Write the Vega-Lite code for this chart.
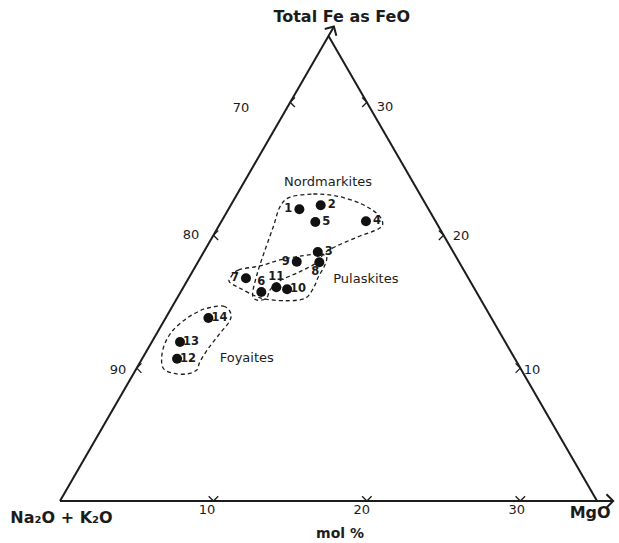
{
  "$schema": "https://vega.github.io/schema/vega-lite/v6.json",
  "width": 619,
  "height": 543,
  "padding": 0,
  "autosize": {"type": "none"},
  "background": "white",
  "config": {"view": {"stroke": null}, "font": "DejaVu Sans"},
  "datasets": {
    "edges": [
      {"edge": "base", "x": 0, "y": 0, "x2": 36, "y2": 0},
      {"edge": "left", "x": 0, "y": 0, "x2": 17.8, "y2": 35.6},
      {"edge": "right", "x": 35, "y": 0, "x2": 17.5, "y2": 35}
    ],
    "ticks": [
      {"side": "bottom", "x": 10, "y": 0},
      {"side": "bottom", "x": 20, "y": 0},
      {"side": "bottom", "x": 30, "y": 0},
      {"side": "left", "x": 5, "y": 10},
      {"side": "left", "x": 10, "y": 20},
      {"side": "left", "x": 15, "y": 30},
      {"side": "right", "x": 30, "y": 10},
      {"side": "right", "x": 25, "y": 20},
      {"side": "right", "x": 20, "y": 30}
    ],
    "ticklabels": [
      {"t": "10", "x": 9.58, "y": -0.68},
      {"t": "20", "x": 19.66, "y": -0.68},
      {"t": "30", "x": 29.77, "y": -0.68},
      {"t": "90", "x": 3.78, "y": 9.86},
      {"t": "80", "x": 8.54, "y": 20.02},
      {"t": "70", "x": 11.8, "y": 29.6},
      {"t": "10", "x": 30.76, "y": 9.86},
      {"t": "20", "x": 26.14, "y": 19.94},
      {"t": "30", "x": 21.18, "y": 29.65}
    ],
    "points": [
      {"id": "1", "x": 15.60, "y": 21.95, "pos": "left"},
      {"id": "2", "x": 16.99, "y": 22.25, "pos": "right"},
      {"id": "3", "x": 16.80, "y": 18.74, "pos": "right"},
      {"id": "4", "x": 19.94, "y": 21.05, "pos": "right"},
      {"id": "5", "x": 16.64, "y": 21.00, "pos": "right"},
      {"id": "6", "x": 13.12, "y": 15.73, "pos": "above"},
      {"id": "7", "x": 12.12, "y": 16.76, "pos": "left"},
      {"id": "8", "x": 16.90, "y": 17.96, "pos": "below"},
      {"id": "9", "x": 15.43, "y": 18.01, "pos": "left"},
      {"id": "10", "x": 14.80, "y": 15.93, "pos": "right"},
      {"id": "11", "x": 14.10, "y": 16.08, "pos": "above"},
      {"id": "12", "x": 7.63, "y": 10.71, "pos": "right"},
      {"id": "13", "x": 7.82, "y": 11.97, "pos": "right"},
      {"id": "14", "x": 9.67, "y": 13.77, "pos": "right"}
    ],
    "outlines": [
      {"group": "Nordmarkites", "o": 1, "x": 14.99, "y": 22.86},
      {"group": "Nordmarkites", "o": 2, "x": 16.51, "y": 23.10},
      {"group": "Nordmarkites", "o": 3, "x": 18.03, "y": 22.95},
      {"group": "Nordmarkites", "o": 4, "x": 19.55, "y": 22.40},
      {"group": "Nordmarkites", "o": 5, "x": 20.64, "y": 21.65},
      {"group": "Nordmarkites", "o": 6, "x": 21.03, "y": 20.94},
      {"group": "Nordmarkites", "o": 7, "x": 20.75, "y": 20.47},
      {"group": "Nordmarkites", "o": 8, "x": 19.55, "y": 19.94},
      {"group": "Nordmarkites", "o": 9, "x": 18.03, "y": 19.19},
      {"group": "Nordmarkites", "o": 10, "x": 17.16, "y": 18.59},
      {"group": "Nordmarkites", "o": 11, "x": 16.84, "y": 18.01},
      {"group": "Nordmarkites", "o": 12, "x": 15.64, "y": 17.26},
      {"group": "Nordmarkites", "o": 13, "x": 14.34, "y": 16.58},
      {"group": "Nordmarkites", "o": 14, "x": 13.70, "y": 15.90},
      {"group": "Nordmarkites", "o": 15, "x": 13.45, "y": 15.25},
      {"group": "Nordmarkites", "o": 16, "x": 12.85, "y": 15.12},
      {"group": "Nordmarkites", "o": 17, "x": 12.55, "y": 15.55},
      {"group": "Nordmarkites", "o": 18, "x": 12.86, "y": 17.14},
      {"group": "Nordmarkites", "o": 19, "x": 13.36, "y": 18.89},
      {"group": "Nordmarkites", "o": 20, "x": 13.90, "y": 20.64},
      {"group": "Nordmarkites", "o": 21, "x": 14.34, "y": 22.15},
      {"group": "Pulaskites", "o": 1, "x": 11.08, "y": 16.76},
      {"group": "Pulaskites", "o": 2, "x": 11.62, "y": 17.38},
      {"group": "Pulaskites", "o": 3, "x": 13.04, "y": 17.69},
      {"group": "Pulaskites", "o": 4, "x": 14.34, "y": 18.14},
      {"group": "Pulaskites", "o": 5, "x": 15.86, "y": 18.46},
      {"group": "Pulaskites", "o": 6, "x": 16.95, "y": 18.57},
      {"group": "Pulaskites", "o": 7, "x": 17.38, "y": 18.34},
      {"group": "Pulaskites", "o": 8, "x": 17.21, "y": 17.63},
      {"group": "Pulaskites", "o": 9, "x": 16.84, "y": 16.88},
      {"group": "Pulaskites", "o": 10, "x": 16.51, "y": 16.01},
      {"group": "Pulaskites", "o": 11, "x": 15.97, "y": 15.25},
      {"group": "Pulaskites", "o": 12, "x": 14.78, "y": 15.07},
      {"group": "Pulaskites", "o": 13, "x": 13.47, "y": 15.18},
      {"group": "Pulaskites", "o": 14, "x": 12.71, "y": 15.43},
      {"group": "Pulaskites", "o": 15, "x": 11.73, "y": 16.01},
      {"group": "Pulaskites", "o": 16, "x": 11.08, "y": 16.43},
      {"group": "Foyaites", "o": 1, "x": 9.56, "y": 14.50},
      {"group": "Foyaites", "o": 2, "x": 10.64, "y": 14.67},
      {"group": "Foyaites", "o": 3, "x": 11.13, "y": 14.13},
      {"group": "Foyaites", "o": 4, "x": 11.03, "y": 13.49},
      {"group": "Foyaites", "o": 5, "x": 10.43, "y": 12.62},
      {"group": "Foyaites", "o": 6, "x": 9.67, "y": 11.49},
      {"group": "Foyaites", "o": 7, "x": 9.12, "y": 10.48},
      {"group": "Foyaites", "o": 8, "x": 8.91, "y": 9.86},
      {"group": "Foyaites", "o": 9, "x": 8.26, "y": 9.56},
      {"group": "Foyaites", "o": 10, "x": 7.38, "y": 9.61},
      {"group": "Foyaites", "o": 11, "x": 6.73, "y": 9.99},
      {"group": "Foyaites", "o": 12, "x": 6.63, "y": 10.86},
      {"group": "Foyaites", "o": 13, "x": 6.84, "y": 11.87},
      {"group": "Foyaites", "o": 14, "x": 7.38, "y": 12.87},
      {"group": "Foyaites", "o": 15, "x": 8.26, "y": 13.75},
      {"group": "Foyaites", "o": 16, "x": 9.01, "y": 14.25}
    ],
    "grouplabels": [
      {"t": "Nordmarkites", "x": 17.47, "y": 24.01},
      {"t": "Pulaskites", "x": 19.93, "y": 16.68},
      {"t": "Foyaites", "x": 12.17, "y": 10.74}
    ],
    "titles": [
      {"t": "Total Fe as FeO", "x": 18.36, "y": 36.42},
      {"t": "Na₂O + K₂O", "x": 0.1, "y": -1.28},
      {"t": "MgO", "x": 34.55, "y": -0.9}
    ],
    "subtitle": [
      {"t": "mol %", "x": 18.25, "y": -2.45}
    ],
    "arrow_up": [{"x": 17.85, "y": 35.7}],
    "arrow_right": [{"x": 36.05, "y": 0}]
  },
  "layer": [
    {
      "data": {"name": "edges"},
      "mark": {"type": "rule", "color": "#1c1c1c", "strokeWidth": 2},
      "encoding": {
        "x": {"field": "x", "type": "quantitative", "scale": {"domain": [-3.91, 36.43], "nice": false, "zero": false}, "axis": null},
        "y": {"field": "y", "type": "quantitative", "scale": {"domain": [-3.16, 37.70], "nice": false, "zero": false}, "axis": null},
        "x2": {"field": "x2"},
        "y2": {"field": "y2"}
      }
    },
    {
      "data": {"name": "ticks"},
      "mark": {"type": "point", "filled": false, "color": "#1c1c1c", "strokeWidth": 1.3, "size": 90, "opacity": 1},
      "encoding": {
        "x": {"field": "x", "type": "quantitative", "axis": null},
        "y": {"field": "y", "type": "quantitative", "axis": null},
        "shape": {"field": "side", "type": "nominal", "legend": null,
          "scale": {"domain": ["bottom", "left", "right"], "range": ["M-1,-1L0,0L1,-1", "M1,-1L0,0L1,1", "M-1,-1L0,0L-1,1"]}}
      }
    },
    {
      "data": {"name": "arrow_up"},
      "mark": {"type": "point", "filled": false, "color": "#1c1c1c", "strokeWidth": 2, "size": 180, "opacity": 1, "shape": "M-1,1L0,0L1,1", "angle": 30},
      "encoding": {
        "x": {"field": "x", "type": "quantitative", "axis": null},
        "y": {"field": "y", "type": "quantitative", "axis": null}
      }
    },
    {
      "data": {"name": "arrow_right"},
      "mark": {"type": "point", "filled": false, "color": "#1c1c1c", "strokeWidth": 2, "size": 180, "opacity": 1, "shape": "M-1,-1L0,0L-1,1"},
      "encoding": {
        "x": {"field": "x", "type": "quantitative", "axis": null},
        "y": {"field": "y", "type": "quantitative", "axis": null}
      }
    },
    {
      "data": {"name": "outlines"},
      "mark": {"type": "line", "color": "#1c1c1c", "strokeWidth": 1.3, "strokeDash": [4, 3], "interpolate": "cardinal-closed"},
      "encoding": {
        "x": {"field": "x", "type": "quantitative", "axis": null},
        "y": {"field": "y", "type": "quantitative", "axis": null},
        "detail": {"field": "group", "type": "nominal"},
        "order": {"field": "o", "type": "quantitative"}
      }
    },
    {
      "data": {"name": "points"},
      "mark": {"type": "point", "filled": true, "color": "#111111", "size": 100, "opacity": 1},
      "encoding": {
        "x": {"field": "x", "type": "quantitative", "axis": null},
        "y": {"field": "y", "type": "quantitative", "axis": null}
      }
    },
    {
      "data": {"name": "points"},
      "transform": [{"filter": "datum.pos === 'right'"}],
      "mark": {"type": "text", "dx": 11, "fontSize": 11.5, "fontWeight": "bold", "color": "#1c1c1c"},
      "encoding": {
        "x": {"field": "x", "type": "quantitative", "axis": null},
        "y": {"field": "y", "type": "quantitative", "axis": null},
        "text": {"field": "id"}
      }
    },
    {
      "data": {"name": "points"},
      "transform": [{"filter": "datum.pos === 'left'"}],
      "mark": {"type": "text", "dx": -11, "fontSize": 11.5, "fontWeight": "bold", "color": "#1c1c1c"},
      "encoding": {
        "x": {"field": "x", "type": "quantitative", "axis": null},
        "y": {"field": "y", "type": "quantitative", "axis": null},
        "text": {"field": "id"}
      }
    },
    {
      "data": {"name": "points"},
      "transform": [{"filter": "datum.pos === 'above'"}],
      "mark": {"type": "text", "dy": -10, "fontSize": 11.5, "fontWeight": "bold", "color": "#1c1c1c"},
      "encoding": {
        "x": {"field": "x", "type": "quantitative", "axis": null},
        "y": {"field": "y", "type": "quantitative", "axis": null},
        "text": {"field": "id"}
      }
    },
    {
      "data": {"name": "points"},
      "transform": [{"filter": "datum.pos === 'below'"}],
      "mark": {"type": "text", "dy": 10, "dx": -4, "fontSize": 11.5, "fontWeight": "bold", "color": "#1c1c1c"},
      "encoding": {
        "x": {"field": "x", "type": "quantitative", "axis": null},
        "y": {"field": "y", "type": "quantitative", "axis": null},
        "text": {"field": "id"}
      }
    },
    {
      "data": {"name": "ticklabels"},
      "mark": {"type": "text", "fontSize": 13, "color": "#1c1c1c"},
      "encoding": {
        "x": {"field": "x", "type": "quantitative", "axis": null},
        "y": {"field": "y", "type": "quantitative", "axis": null},
        "text": {"field": "t"}
      }
    },
    {
      "data": {"name": "grouplabels"},
      "mark": {"type": "text", "fontSize": 13, "color": "#1c1c1c"},
      "encoding": {
        "x": {"field": "x", "type": "quantitative", "axis": null},
        "y": {"field": "y", "type": "quantitative", "axis": null},
        "text": {"field": "t"}
      }
    },
    {
      "data": {"name": "titles"},
      "mark": {"type": "text", "fontSize": 16, "fontWeight": "bold", "color": "#1c1c1c"},
      "encoding": {
        "x": {"field": "x", "type": "quantitative", "axis": null},
        "y": {"field": "y", "type": "quantitative", "axis": null},
        "text": {"field": "t"}
      }
    },
    {
      "data": {"name": "subtitle"},
      "mark": {"type": "text", "fontSize": 14, "fontWeight": "bold", "color": "#1c1c1c"},
      "encoding": {
        "x": {"field": "x", "type": "quantitative", "axis": null},
        "y": {"field": "y", "type": "quantitative", "axis": null},
        "text": {"field": "t"}
      }
    }
  ]
}
